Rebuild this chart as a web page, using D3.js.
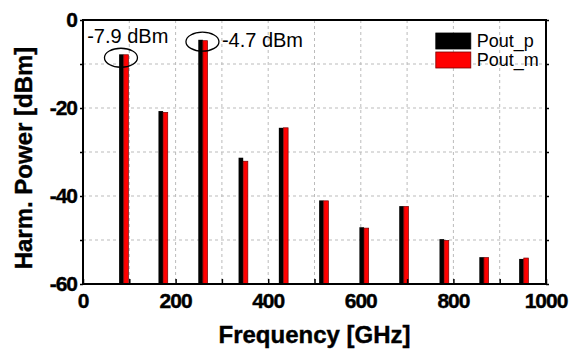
<!DOCTYPE html>
<html>
<head>
<meta charset="utf-8">
<script src="https://cdn.jsdelivr.net/npm/d3@7"></script>
<style>
    body { margin: 0; background: #fff; }
    text { font-family: "Liberation Sans", Arial, sans-serif; }
    .bold { font-weight: bold; stroke: #000; stroke-width: 0.4px; }
</style>
</head>
<body>
<div id="chart"></div>
<script>
// harmonic frequencies [GHz] and output power [dBm]
const freqs = [88, 173, 259, 346, 433, 520, 607, 693, 780, 866, 952];
const poutP = [-7.8, -20.7, -4.5, -31.3, -24.5, -41.0, -47.1, -42.3, -49.8, -53.9, -54.3];
const poutM = [-7.9, -21.0, -4.7, -32.1, -24.5, -41.1, -47.3, -42.4, -50.1, -54.0, -54.1];

const xTicks = [0, 200, 400, 600, 800, 1000];
const yTicks = [0, -20, -40, -60];

const seriesNames = ["Pout_p", "Pout_m"];
const annotations = [
    { label: "-7.9 dBm", f: 82, v: -7.9 },
    { label: "-4.7 dBm", f: 258, v: -4.7 }
];

document.addEventListener("DOMContentLoaded", draw);

function draw() {
    const width = 571, height = 353;
    const margin = { top: 20, right: 25, bottom: 69, left: 83 };
    const w = width - margin.left - margin.right;
    const h = height - margin.top - margin.bottom;

    const svg = d3.select("#chart").append("svg")
        .attr("width", width)
        .attr("height", height);

    const g = svg.append("g")
        .attr("transform", `translate(${margin.left},${margin.top})`);

    const x = d3.scaleLinear().domain([0, 1000]).range([0, w]);
    const y = d3.scaleLinear().domain([-60, 0]).range([h, 0]);

    // dashed grid
    g.append("g")
        .selectAll("line")
        .data(d3.range(100, 1000, 100))
        .join("line")
        .attr("x1", d => x(d)).attr("x2", d => x(d))
        .attr("y1", 0).attr("y2", h)
        .attr("stroke", "#bbb")
        .attr("stroke-dasharray", "3,3");

    g.append("g")
        .selectAll("line")
        .data(d3.range(-50, 0, 10))
        .join("line")
        .attr("x1", 0).attr("x2", w)
        .attr("y1", d => y(d)).attr("y2", d => y(d))
        .attr("stroke", "#bbb")
        .attr("stroke-dasharray", "3,3");

    // bars
    const bw = 10; // GHz
    g.append("g")
        .selectAll("rect")
        .data(freqs)
        .join("rect")
        .attr("x", d => x(d - bw))
        .attr("width", x(bw) - x(0))
        .attr("y", (d, i) => y(poutP[i]))
        .attr("height", (d, i) => y(-60) - y(poutP[i]))
        .attr("fill", "#000");

    g.append("g")
        .selectAll("rect")
        .data(freqs)
        .join("rect")
        .attr("x", d => x(d))
        .attr("width", x(bw) - x(0))
        .attr("y", (d, i) => y(poutM[i]))
        .attr("height", (d, i) => y(-60) - y(poutM[i]))
        .attr("fill", "#ff0000")
        .attr("stroke", "#7a0000")
        .attr("stroke-width", 0.7);

    // axes
    const xAxis = d3.axisBottom(x).tickValues(d3.range(0, 1001, 100))
        .tickSizeInner(-5).tickSizeOuter(0).tickFormat("");
    g.append("g").attr("transform", `translate(0,${h})`).call(xAxis)
        .call(a => a.select(".domain").remove())
        .selectAll("line").attr("stroke-width", 1.5);

    const yAxis = d3.axisLeft(y).tickValues(d3.range(-60, 1, 10))
        .tickSizeInner(3).tickSizeOuter(0).tickFormat("");
    g.append("g").call(yAxis)
        .call(a => a.select(".domain").remove())
        .selectAll("line").attr("stroke-width", 1.5);

    const yAxisR = d3.axisRight(y).tickValues(d3.range(-60, 1, 10))
        .tickSizeInner(3).tickSizeOuter(0).tickFormat("");
    g.append("g").attr("transform", `translate(${w},0)`).call(yAxisR)
        .call(a => a.select(".domain").remove())
        .selectAll("line").attr("stroke-width", 1.5);

    // frame
    g.append("rect")
        .attr("width", w).attr("height", h)
        .attr("fill", "none")
        .attr("stroke", "#000")
        .attr("stroke-width", 2);

    // tick labels
    g.append("g")
        .selectAll("text")
        .data(xTicks)
        .join("text")
        .attr("class", "bold")
        .attr("x", d => x(d))
        .attr("y", h + 24)
        .attr("text-anchor", "middle")
        .attr("font-size", 21)
        .attr("letter-spacing", -1)
        .text(d => d);

    g.append("g")
        .selectAll("text")
        .data(yTicks)
        .join("text")
        .attr("class", "bold")
        .attr("x", -6)
        .attr("y", d => y(d) + 7)
        .attr("text-anchor", "end")
        .attr("font-size", 21)
        .attr("letter-spacing", -1)
        .text(d => d);

    // axis titles
    svg.append("text")
        .attr("class", "bold")
        .attr("x", margin.left + w / 2)
        .attr("y", 343)
        .attr("text-anchor", "middle")
        .attr("font-size", 24)
        .text("Frequency [GHz]");

    svg.append("text")
        .attr("class", "bold")
        .attr("transform", `translate(32,158) rotate(-90)`)
        .attr("text-anchor", "middle")
        .attr("font-size", 24)
        .text("Harm. Power [dBm]");

    // annotations
    const ann = g.append("g");
    ann.selectAll("ellipse")
        .data(annotations)
        .join("ellipse")
        .attr("cx", d => x(d.f))
        .attr("cy", (d, i) => y(d.v) + (i === 0 ? 3 : 1))
        .attr("rx", 16.5)
        .attr("ry", 9.5)
        .attr("fill", "none")
        .attr("stroke", "#000")
        .attr("stroke-width", 1.3);

    ann.append("text")
        .attr("x", x(9)).attr("y", y(-5.2))
        .attr("font-size", 20)
        .text(annotations[0].label);
    ann.append("text")
        .attr("x", x(300)).attr("y", y(-6.1))
        .attr("font-size", 20)
        .text(annotations[1].label);

    // legend
    const legend = g.append("g").attr("transform", `translate(${x(762)},13)`);
    const legColors = [["#000", "#000"], ["#ff0000", "#7a0000"]];
    seriesNames.forEach((name, i) => {
        legend.append("rect")
            .attr("x", 0).attr("y", i * 19)
            .attr("width", 35).attr("height", 16)
            .attr("fill", legColors[i][0])
            .attr("stroke", legColors[i][1])
            .attr("stroke-width", 0.8);
        legend.append("text")
            .attr("x", 41).attr("y", i * 19 + 14)
            .attr("font-size", 18)
            .text(name);
    });
}
</script>
</body>
</html>
